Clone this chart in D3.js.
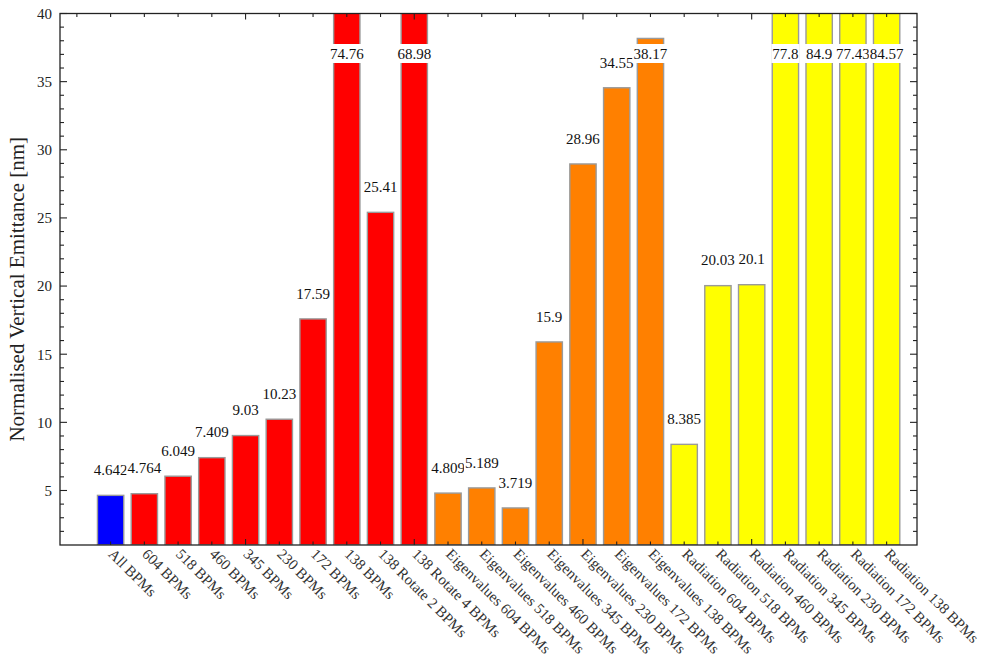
<!DOCTYPE html>
<html>
<head>
<meta charset="utf-8">
<script src="https://cdn.jsdelivr.net/npm/d3@7"></script>
<style>
  html, body { margin: 0; padding: 0; background: #fff; }
  svg { display: block; }
  text { font-family: "Liberation Serif", "Times New Roman", serif; }
</style>
</head>
<body>
<svg id="chart" width="981" height="662"></svg>
<script>
// Bar categories, in plotting order
const categories = [
  "All BPMs", "604 BPMs", "518 BPMs", "460 BPMs", "345 BPMs", "230 BPMs",
  "172 BPMs", "138 BPMs", "138 Rotate 2 BPMs", "138 Rotate 4 BPMs",
  "Eigenvalues 604 BPMs", "Eigenvalues 518 BPMs", "Eigenvalues 460 BPMs",
  "Eigenvalues 345 BPMs", "Eigenvalues 230 BPMs", "Eigenvalues 172 BPMs",
  "Eigenvalues 138 BPMs",
  "Radiation 604 BPMs", "Radiation 518 BPMs", "Radiation 460 BPMs",
  "Radiation 345 BPMs", "Radiation 230 BPMs", "Radiation 172 BPMs",
  "Radiation 138 BPMs"
];

// Normalised vertical emittance [nm] for each category
const values = [
  4.642, 4.764, 6.049, 7.409, 9.03, 10.23,
  17.59, 74.76, 25.41, 68.98,
  4.809, 5.189, 3.719,
  15.9, 28.96, 34.55,
  38.17,
  8.385, 20.03, 20.1,
  77.8, 84.9, 77.43,
  84.57
];

// Method group of each bar (sets its colour)
const groups = [
  "all", "bpm", "bpm", "bpm", "bpm", "bpm",
  "bpm", "bpm", "bpm", "bpm",
  "eig", "eig", "eig",
  "eig", "eig", "eig",
  "eig",
  "rad", "rad", "rad",
  "rad", "rad", "rad",
  "rad"
];

const yTickValues = [5, 10, 15, 20, 25, 30, 35, 40];
const yTitle = "Normalised Vertical Emittance [nm]";

const groupColor = { all: "#0000ff", bpm: "#ff0000", eig: "#ff8000", rad: "#ffff00" };

const svg = d3.select("#chart");
const plotL = 60, plotR = 917, plotT = 13.5, plotB = 545;

const x = d3.scaleLinear().domain([-0.5, 24.9]).range([plotL, plotR]);
const y = d3.scaleLinear().domain([1, 40]).range([plotB, plotT]);
const step = x(1) - x(0);
const barW = step * 0.78;

const data = categories.map((c, i) => ({ name: c, value: values[i], group: groups[i], pos: i + 1 }));

svg.append("defs").append("clipPath").attr("id", "plotclip")
  .append("rect").attr("x", plotL).attr("y", plotT).attr("width", plotR - plotL).attr("height", plotB - plotT);

// Bars
const barLayer = svg.append("g").attr("clip-path", "url(#plotclip)");
barLayer.selectAll("rect.bar").data(data).enter().append("rect")
  .attr("class", "bar")
  .attr("x", d => x(d.pos) - barW / 2)
  .attr("width", barW)
  .attr("y", d => y(Math.min(d.value, 41)))
  .attr("height", d => y(1) - y(Math.min(d.value, 41)))
  .attr("fill", d => groupColor[d.group])
  .attr("stroke", "#9a9a9a")
  .attr("stroke-width", 1.4);

// Frame ticks
const tickLayer = svg.append("g").attr("stroke", "#222").attr("stroke-width", 1.1);
d3.range(0, 25).forEach(i => {
  const len = (i % 5 === 0 && i > 0) ? 6 : 3.5;
  tickLayer.append("line").attr("x1", x(i)).attr("x2", x(i)).attr("y1", plotT).attr("y2", plotT + len);
});
d3.range(1, 25).forEach(i => {
  const len = (i % 5 === 0) ? 6 : 3.5;
  tickLayer.append("line").attr("x1", x(i)).attr("x2", x(i)).attr("y1", plotB).attr("y2", plotB - len);
});
d3.range(2, 41).forEach(v => {
  const len = (v % 5 === 0) ? 7 : 4;
  tickLayer.append("line").attr("x1", plotL).attr("x2", plotL + len).attr("y1", y(v)).attr("y2", y(v));
  tickLayer.append("line").attr("x1", plotR).attr("x2", plotR - len).attr("y1", y(v)).attr("y2", y(v));
});

// Left axis labels
const yAxis = d3.axisLeft(y).tickValues(yTickValues).tickSize(0).tickPadding(8).tickFormat(d3.format("d"));
const yG = svg.append("g").attr("transform", `translate(${plotL},0)`).call(yAxis);
yG.select(".domain").remove();
yG.selectAll("text").attr("font-size", 15).attr("fill", "#222")
  .style("font-family", '"Liberation Serif", serif');

// Frame
svg.append("rect").attr("x", plotL).attr("y", plotT).attr("width", plotR - plotL).attr("height", plotB - plotT)
  .attr("fill", "none").attr("stroke", "#222").attr("stroke-width", 1.3);

// Value labels with white backing boxes
const labelLayer = svg.append("g");
data.forEach(d => {
  const cy = Math.max(y(d.value) - 25.5, 53.5);
  const g = labelLayer.append("g").attr("transform", `translate(${x(d.pos)},${cy})`);
  const bg = g.append("rect").attr("fill", "#fff");
  const t = g.append("text").attr("text-anchor", "middle").attr("dy", "0.35em")
    .attr("font-size", 15).attr("fill", "#111").text(String(d.value));
  const bb = t.node().getBBox();
  bg.attr("x", bb.x - 1).attr("y", -9.5).attr("width", bb.width + 2).attr("height", 19);
});

// Category labels, rotated
svg.append("g").selectAll("text").data(data).enter().append("text")
  .attr("transform", d => `translate(${x(d.pos) - 3},${plotB + 10}) rotate(45)`)
  .attr("font-size", 15).attr("fill", "#333")
  .text(d => d.name);

// Y title
svg.append("text")
  .attr("transform", `translate(24,${(plotT + plotB) / 2 + 10}) rotate(-90)`)
  .attr("text-anchor", "middle").attr("font-size", 21).attr("fill", "#222")
  .text(yTitle);
</script>
</body>
</html>
